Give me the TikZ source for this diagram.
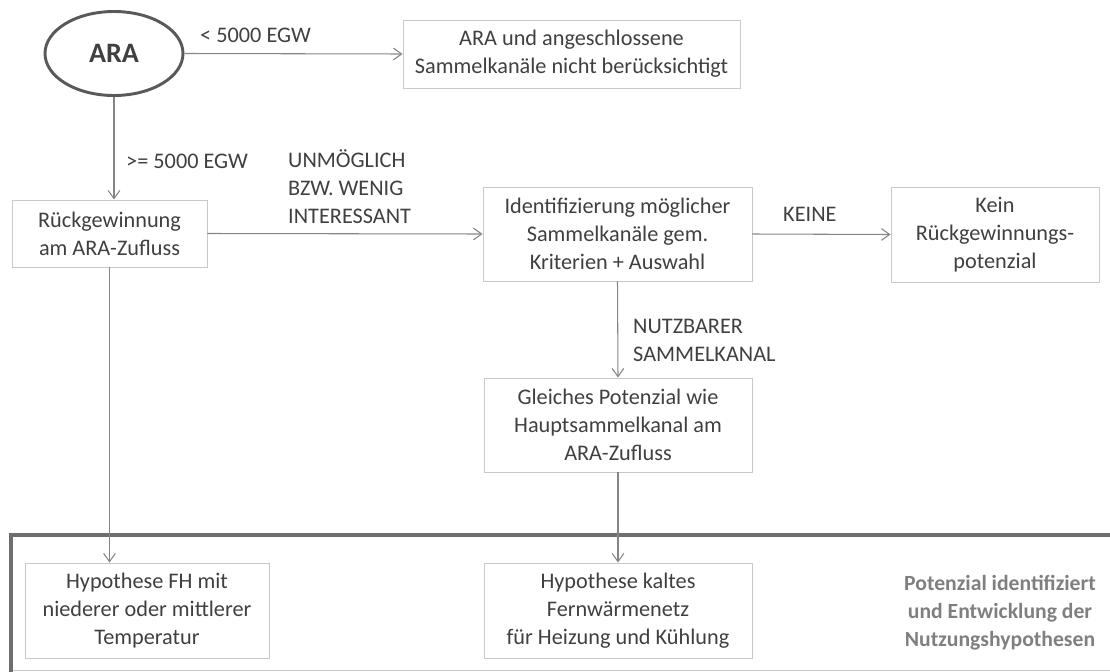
\documentclass[tikz,border=0pt]{standalone}
\usepackage{fontspec}
\setmainfont{Carlito}
\usepackage{tikz}
\usetikzlibrary{arrows.meta,shapes.geometric}
\definecolor{txtgray}{HTML}{404040}
\definecolor{boxgray}{HTML}{C8C8C8}
\definecolor{arrgray}{HTML}{858585}
\definecolor{ellgray}{HTML}{595959}
\definecolor{framegray}{HTML}{6E6E6E}
\definecolor{notegray}{HTML}{7F7F7F}

\begin{document}
\begin{tikzpicture}[>={Straight Barb[length=7pt,width=10pt]}, x=0.03cm, y=-0.03cm,
    box/.style={draw=boxgray, line width=0.8pt, fill=white, text=txtgray, align=center,
        font=\fontsize{19}{24}\selectfont, inner sep=0pt},
    lbl/.style={text=txtgray, align=left, anchor=west, inner sep=0pt,
        font=\fontsize{19}{24}\selectfont},
    conn/.style={draw=arrgray, line width=0.9pt}]
    \useasboundingbox (0,0) rectangle (1110,672);
    % frame round the hypotheses
    \draw [boxgray, line width=0.8pt] (11,670) -- (1110,670);
    \draw [framegray, line width=3.4pt, line join=miter] (1112,535) -- (11,535) -- (11,674);
    \node [draw=ellgray, line width=2.5pt, ellipse, minimum width=4.14cm, minimum height=2.52cm,
        text=txtgray, font=\fontsize{24}{28}\selectfont\bfseries] (ara) at (114,53.5) {ARA};
    \node [box, minimum width=10.11cm, minimum height=2.04cm] (skip) at (571.5,54)
        {ARA und angeschlossene\\Sammelkanäle nicht berücksichtigt};
    \node [box, minimum width=5.85cm, minimum height=2.01cm] (rueck) at (109.5,233.5)
        {Rückgewinnung\\am ARA-Zufluss};
    \node [box, minimum width=8.07cm, minimum height=2.82cm] (ident) at (617.5,234)
        {Identifizierung möglicher\\Sammelkanäle gem.\\Kriterien + Auswahl};
    \node [box, minimum width=6.24cm, minimum height=2.85cm] (kein) at (995,234.5)
        {Kein\\Rückgewinnungs-\\potenzial};
    \node [box, minimum width=8.04cm, minimum height=2.82cm] (gleich) at (618,425)
        {Gleiches Potenzial wie\\Hauptsammelkanal am\\ARA-Zufluss};
    \node [box, minimum width=7.32cm, minimum height=2.85cm] (hfh) at (147,610.5)
        {Hypothese FH mit\\niederer oder mittlerer\\Temperatur};
    \node [box, minimum width=8.04cm, minimum height=2.85cm] (hkalt) at (618,610.5)
        {Hypothese kaltes\\Fernwärmenetz\\für Heizung und Kühlung};
    \node [align=center, inner sep=0pt, text=notegray, font=\fontsize{18.5}{24}\selectfont\bfseries]
        (note) at (1000,613) {Potenzial identifiziert\\und Entwicklung der\\Nutzungshypothesen};
    % labels on the connectors
    \node [lbl] (l1) at (200,35) {< 5000 EGW};
    \node [lbl] (l2) at (126,161) {>= 5000 EGW};
    \node [lbl] (l3) at (288,187) {UNMÖGLICH\\BZW. WENIG\\INTERESSANT};
    \node [lbl] (l4) at (783,214) {KEINE};
    \node [lbl] (l5) at (633,340) {NUTZBARER\\SAMMELKANAL};
    \draw [conn, ->] (ara.east) -- (skip.west);
    \draw [conn, ->] (ara.south) -- (ara.south |- rueck.north);
    \draw [conn, ->] (rueck.east) -- (ident.west);
    \draw [conn, ->] (ident.east) -- (kein.west);
    \draw [conn, ->] (ident.south) -- (gleich.north);
    \draw [conn, ->] (rueck.south) -- (rueck.south |- hfh.north);
    \draw [conn, ->] (gleich.south) -- (hkalt.north);
\end{tikzpicture}
\end{document}
